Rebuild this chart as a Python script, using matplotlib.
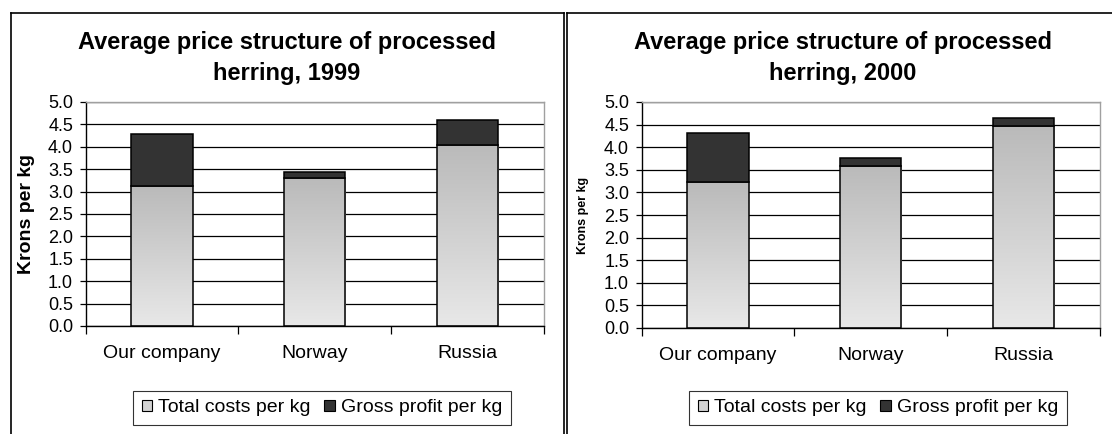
import numpy as np
import matplotlib.pyplot as plt
from matplotlib.colors import LinearSegmentedColormap
from matplotlib.patches import Patch
from matplotlib.lines import Line2D

plt.rcParams['font.family'] = ['Liberation Sans', 'DejaVu Sans']

countries = ['Our company', 'Norway', 'Russia']
series_names = ['Total costs per kg', 'Gross profit per kg']

costs_1999 = [3.12, 3.30, 4.05]
profit_1999 = [1.16, 0.14, 0.55]
costs_2000 = [3.22, 3.59, 4.46]
profit_2000 = [1.10, 0.17, 0.18]

yticks = [0.0, 0.5, 1.0, 1.5, 2.0, 2.5, 3.0, 3.5, 4.0, 4.5, 5.0]

W, H = 1112, 434
fig = plt.figure(figsize=(W / 100, H / 100), dpi=100)
fig.patch.set_facecolor('white')

# vertical shading for the cost bars, light at the bottom
shade = LinearSegmentedColormap.from_list('shade', ['#e8e8e8', '#bababa'])
grad = np.linspace(0, 1, 256).reshape(-1, 1)
dark = '#333333'


def fx(px):
    return px / W


def fy(py):
    return 1 - py / H


def panel(dx, costs, profit, year, ylabel_size, bottom_px):
    ax = fig.add_axes([fx(85.6 + dx), fy(bottom_px), 458.4 / W, (bottom_px - 102) / H])
    x = np.arange(len(countries))
    cost_bars = ax.bar(x, costs, 0.4, facecolor='none', edgecolor='black',
                       linewidth=1.1, zorder=3)
    ax.bar(x, profit, 0.4, bottom=costs, color=dark, edgecolor='black',
           linewidth=1.1, zorder=3)
    for rect in cost_bars:
        x0, w, h = rect.get_x(), rect.get_width(), rect.get_height()
        ax.imshow(grad, cmap=shade, extent=(x0, x0 + w, 0, h), aspect='auto',
                  origin='lower', zorder=2)

    ax.set_xlim(-0.5, len(countries) - 0.5)
    ax.set_ylim(0, 5)
    ax.set_yticks(yticks)
    ax.set_yticklabels([f'{v:.1f}' for v in yticks])
    ax.yaxis.grid(True, color='black', linewidth=0.9)
    ax.set_axisbelow(True)

    ax.set_xticks(x)
    ax.set_xticklabels(countries)
    ax.set_xticks(np.arange(len(countries) + 1) - 0.5, minor=True)
    ax.tick_params(axis='x', which='major', length=0, pad=14, labelsize=14)
    ax.tick_params(axis='x', which='minor', length=6, width=0.9, direction='out')
    ax.tick_params(axis='y', length=4, width=0.9, direction='out', pad=5, labelsize=13)

    for side in ['left', 'bottom']:
        ax.spines[side].set_color('black')
        ax.spines[side].set_linewidth(1.0)
    for side in ['top', 'right']:
        ax.spines[side].set_color('#a0a0a0')
        ax.spines[side].set_linewidth(1.0)

    ax.set_ylabel('Krons per kg', fontsize=ylabel_size, fontweight='bold')
    ax.yaxis.label.set_verticalalignment('center')
    ax.yaxis.set_label_coords(-0.128, 0.5)

    fig.text(fx(287 + dx), fy(58), 'Average price structure of processed\nherring, ' + year,
             ha='center', va='center', fontsize=17, fontweight='bold', linespacing=1.45)

    handles = [Patch(facecolor='#d2d2d2', edgecolor='black', linewidth=0.8),
               Patch(facecolor=dark, edgecolor='black', linewidth=0.8)]
    leg = fig.legend(handles, series_names, loc='center',
                     bbox_to_anchor=(fx(322 + dx), fy(408)), ncol=2, fontsize=14,
                     frameon=True, fancybox=False, edgecolor='black',
                     handlelength=0.55, handleheight=0.55, handletextpad=0.3,
                     columnspacing=0.7, borderpad=0.45)
    leg.get_frame().set_linewidth(0.8)
    return ax


panel(0, costs_1999, profit_1999, '1999', 14, 326)
panel(556, costs_2000, profit_2000, '2000', 9, 328)

# outer chart frames
frame = dict(transform=fig.transFigure, color='black', linewidth=1.2)
fig.add_artist(Line2D([fx(11), fx(11)], [fy(12.5), 0], **frame))
fig.add_artist(Line2D([fx(11), fx(564)], [fy(12.5), fy(12.5)], **frame))
fig.add_artist(Line2D([fx(564), fx(564)], [fy(12.5), 0], **frame))
fig.add_artist(Line2D([fx(567), fx(567)], [fy(12.5), 0], **frame))
fig.add_artist(Line2D([fx(567), 1], [fy(12.5), fy(12.5)], **frame))

fig.savefig('out.png', dpi=100)
